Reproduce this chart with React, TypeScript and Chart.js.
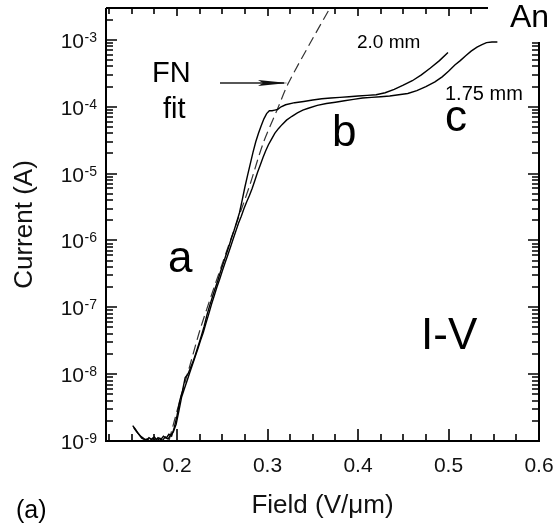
import React, { useEffect, useRef } from 'react';
import { Chart, registerables } from 'chart.js';

Chart.register(...registerables);

// ---------- data ----------
const field20mm = [
  0.152, 0.155, 0.158, 0.161, 0.164, 0.167, 0.170, 0.173, 0.176, 0.179, 0.182, 0.185, 0.188, 0.191, 0.194,
  0.197, 0.200, 0.203, 0.206, 0.209, 0.212, 0.215, 0.218, 0.221, 0.224, 0.227, 0.230, 0.233, 0.236, 0.239,
  0.242, 0.245, 0.248, 0.251, 0.254, 0.257, 0.260, 0.263, 0.266, 0.269, 0.272, 0.275, 0.278, 0.281, 0.284,
  0.287, 0.290, 0.293, 0.296, 0.299, 0.302, 0.305, 0.308, 0.311, 0.315, 0.320, 0.330, 0.340, 0.350, 0.360,
  0.370, 0.380, 0.390, 0.400, 0.410, 0.420, 0.430, 0.440, 0.450, 0.460, 0.470, 0.480, 0.490, 0.4994,
];
const current20mm = [
  1.6e-9, 1.4e-9, 1.25e-9, 1.1e-9, 1.05e-9, 1.07e-9, 1.0e-9, 1.1e-9, 1.02e-9, 1.12e-9, 1.05e-9, 1.18e-9, 1.1e-9, 1.26e-9, 1.18e-9,
  1.6e-9, 2.4e-9, 4.0e-9, 5.6e-9, 8.9e-9, 1.0e-8, 1.26e-8, 1.58e-8, 2.1e-8, 2.8e-8, 3.8e-8, 5.2e-8, 7.6e-8, 1.05e-7, 1.41e-7,
  1.9e-7, 2.5e-7, 3.4e-7, 4.5e-7, 6.0e-7, 7.9e-7, 1.07e-6, 1.41e-6, 1.9e-6, 2.6e-6, 4.0e-6, 6.3e-6, 9.5e-6, 1.41e-5, 2.1e-5,
  3.0e-5, 4.0e-5, 5.2e-5, 6.6e-5, 7.9e-5, 8.7e-5, 8.7e-5, 8.9e-5, 9.1e-5, 1.0e-4, 1.07e-4, 1.15e-4, 1.2e-4, 1.26e-4, 1.32e-4,
  1.35e-4, 1.38e-4, 1.41e-4, 1.45e-4, 1.48e-4, 1.51e-4, 1.62e-4, 1.82e-4, 2.1e-4, 2.45e-4, 3.0e-4, 3.8e-4, 4.9e-4, 6.5e-4,
];

const field175mm = [
  0.151, 0.154, 0.157, 0.160, 0.163, 0.166, 0.169, 0.172, 0.175, 0.178, 0.181, 0.184, 0.187, 0.190, 0.193,
  0.196, 0.199, 0.202, 0.205, 0.208, 0.211, 0.214, 0.217, 0.220, 0.223, 0.226, 0.229, 0.232, 0.235, 0.238,
  0.241, 0.244, 0.247, 0.250, 0.253, 0.256, 0.259, 0.262, 0.265, 0.268, 0.271, 0.274, 0.277, 0.280, 0.283,
  0.286, 0.289, 0.292, 0.295, 0.298, 0.301, 0.304, 0.308, 0.312, 0.316, 0.321, 0.327, 0.333, 0.339, 0.345,
  0.355, 0.365, 0.375, 0.385, 0.395, 0.405, 0.415, 0.425, 0.435, 0.445, 0.455, 0.465, 0.475, 0.485, 0.493,
  0.500, 0.507, 0.513, 0.519, 0.525, 0.5315, 0.537, 0.542, 0.548, 0.554,
];
const current175mm = [
  1.7e-9, 1.5e-9, 1.3e-9, 1.17e-9, 1.1e-9, 1.02e-9, 1.12e-9, 1.05e-9, 1.15e-9, 1.02e-9, 1.1e-9, 1.02e-9, 1.15e-9, 1.07e-9, 1.23e-9,
  1.38e-9, 1.78e-9, 2.8e-9, 4.5e-9, 6.0e-9, 7.9e-9, 1.05e-8, 1.38e-8, 1.82e-8, 2.4e-8, 3.2e-8, 4.2e-8, 5.8e-8, 7.9e-8, 1.1e-7,
  1.48e-7, 2.0e-7, 2.6e-7, 3.5e-7, 4.6e-7, 6.0e-7, 7.9e-7, 1.05e-6, 1.38e-6, 1.82e-6, 2.3e-6, 3.0e-6, 3.8e-6, 4.7e-6, 6.0e-6,
  7.9e-6, 1.05e-5, 1.35e-5, 1.74e-5, 2.2e-5, 2.7e-5, 3.2e-5, 4.0e-5, 4.7e-5, 5.4e-5, 6.3e-5, 7.2e-5, 8.1e-5, 8.9e-5, 9.5e-5,
  1.05e-4, 1.12e-4, 1.17e-4, 1.23e-4, 1.29e-4, 1.35e-4, 1.38e-4, 1.41e-4, 1.45e-4, 1.51e-4, 1.58e-4, 1.74e-4, 2.0e-4, 2.35e-4, 2.8e-4,
  3.4e-4, 4.2e-4, 4.9e-4, 5.8e-4, 6.8e-4, 7.8e-4, 8.5e-4, 9.1e-4, 9.3e-4, 9.3e-4,
];

const fieldFnFit = [0.191, 0.2033, 0.2144, 0.2254, 0.240, 0.2541, 0.2674, 0.2807, 0.295, 0.3105, 0.3227, 0.347, 0.369];
const currentFnFit = [1.0e-9, 4.1e-9, 1.38e-8, 4.6e-8, 1.82e-7, 6.5e-7, 2.1e-6, 6.9e-6, 2.8e-5, 8.9e-5, 2.2e-4, 8.9e-4, 3.0e-3];

const xTickValues = [0.2, 0.3, 0.4, 0.5, 0.6];
const xTickLabels = ['0.2', '0.3', '0.4', '0.5', '0.6'];
const xMinorTickValues = [
  0.125, 0.15, 0.175, 0.2, 0.225, 0.25, 0.275, 0.3, 0.325, 0.35, 0.375, 0.4, 0.425, 0.45, 0.475, 0.5, 0.525, 0.55, 0.575,
];
const yTickExponents = [-9, -8, -7, -6, -5, -4, -3];
const yMantissas = [1, 2, 3, 4, 5, 6, 7, 8, 9];

const X_MIN = 0.1215;
const X_MAX = 0.6;
const Y_MIN = 1e-9;
const Y_MAX = 3e-3;

const FONT = '"Liberation Sans", Arial, Helvetica, sans-serif';

const toPoints = (xs: number[], ys: number[]) => xs.map((x, i) => ({ x, y: ys[i] }));

// Frame and inward tick marks, drawn right after the datasets
const ticksPlugin = {
  id: 'inwardTicks',
  afterDatasetsDraw(chart: any) {
    const ctx: CanvasRenderingContext2D = chart.ctx;
    const a = chart.chartArea;
    const xs = chart.scales.x;
    const ys = chart.scales.y;
    const L = Math.round(a.left);
    const R = Math.round(a.right);
    const T = Math.round(a.top);
    const B = Math.round(a.bottom);
    const topEnd = R - 51;
    const rightTop = T + 34;
    ctx.save();
    ctx.setLineDash([]);
    ctx.globalAlpha = 1;
    ctx.globalCompositeOperation = 'source-over';
    ctx.strokeStyle = '#000000';
    ctx.lineCap = 'butt';

    ctx.lineWidth = 2;
    ctx.beginPath();
    ctx.moveTo(L, T);
    ctx.lineTo(L, B);
    ctx.lineTo(R, B);
    ctx.lineTo(R, rightTop);
    ctx.moveTo(L, T);
    ctx.lineTo(topEnd, T);
    ctx.stroke();

    ctx.lineWidth = 1.6;
    ctx.beginPath();
    for (const v of xMinorTickValues) {
      const px = Math.round(xs.getPixelForValue(v));
      const major = xTickValues.indexOf(v) >= 0;
      ctx.moveTo(px, B);
      ctx.lineTo(px, B - (major ? 12 : 7));
      if (px <= topEnd) {
        ctx.moveTo(px, T);
        ctx.lineTo(px, T + (major ? 8 : 6));
      }
    }
    for (const e of yTickExponents) {
      for (const m of yMantissas) {
        const v = m * Math.pow(10, e);
        if (v > Y_MAX * 1.0001) continue;
        if (m === 1 && e === -9) continue;
        const py = Math.round(ys.getPixelForValue(v));
        const len = m === 1 ? 11 : 7;
        ctx.moveTo(L, py);
        ctx.lineTo(L + len, py);
        if (py >= rightTop) {
          ctx.moveTo(R, py);
          ctx.lineTo(R - len, py);
        }
      }
    }
    ctx.stroke();
    ctx.restore();
  },
};

// Tick labels, axis titles and annotations
const textPlugin = {
  id: 'texts',
  afterDraw(chart: any) {
    const ctx: CanvasRenderingContext2D = chart.ctx;
    const a = chart.chartArea;
    const xs = chart.scales.x;
    const ys = chart.scales.y;
    ctx.save();
    ctx.fillStyle = '#111';
    ctx.textBaseline = 'alphabetic';
    ctx.textAlign = 'right';
    for (const e of yTickExponents) {
      const py = ys.getPixelForValue(Math.pow(10, e));
      const expText = String(e);
      ctx.font = `14px ${FONT}`;
      const expW = ctx.measureText(expText).width;
      ctx.fillText(expText, a.left - 9, py + 2);
      ctx.font = `21px ${FONT}`;
      ctx.fillText('10', a.left - 9 - expW - 0.5, py + 8);
    }
    ctx.font = `21px ${FONT}`;
    ctx.textAlign = 'center';
    xTickValues.forEach((v, i) => {
      ctx.fillText(xTickLabels[i], xs.getPixelForValue(v), a.bottom + 31);
    });

    ctx.font = `26px ${FONT}`;
    ctx.textAlign = 'center';
    ctx.fillText('Field (V/\u03bcm)', (a.left + a.right) / 2, 513);
    ctx.save();
    ctx.translate(32, (a.top + a.bottom) / 2);
    ctx.rotate(-Math.PI / 2);
    ctx.fillText('Current (A)', 0, 0);
    ctx.restore();

    ctx.textAlign = 'left';
    ctx.fillStyle = '#000';
    ctx.font = `29px ${FONT}`;
    ctx.fillText('FN', 152, 82);
    ctx.fillText('fit', 163, 118);
    ctx.font = `44px ${FONT}`;
    ctx.fillText('a', 168, 272);
    ctx.fillText('b', 332, 146);
    ctx.fillText('c', 445, 131);
    ctx.fillText('I-V', 421, 349);
    ctx.font = `19px ${FONT}`;
    ctx.fillText('2.0 mm', 357, 48);
    ctx.font = `20px ${FONT}`;
    ctx.fillText('1.75 mm', 445, 100);
    ctx.font = `32px ${FONT}`;
    ctx.fillText('An', 510, 27);
    ctx.font = `25px ${FONT}`;
    ctx.fillText('(a)', 16, 518);

    ctx.fillStyle = '#111';
    ctx.fillRect(220, 82.3, 64, 1.4);
    ctx.beginPath();
    ctx.moveTo(288, 83);
    ctx.lineTo(258, 80);
    ctx.lineTo(263, 83);
    ctx.lineTo(258, 86);
    ctx.closePath();
    ctx.fill();
    ctx.restore();
  },
};

export default function App() {
  const ref = useRef<HTMLCanvasElement | null>(null);
  useEffect(() => {
    if (!ref.current) return;
    const chart = new Chart(ref.current, {
      type: 'line',
      data: {
        datasets: [
          {
            label: '2.0 mm',
            data: toPoints(field20mm, current20mm),
            borderColor: '#000',
            borderWidth: 1.4,
            pointRadius: 0,
            tension: 0,
            fill: false,
          },
          {
            label: '1.75 mm',
            data: toPoints(field175mm, current175mm),
            borderColor: '#000',
            borderWidth: 1.4,
            pointRadius: 0,
            tension: 0,
            fill: false,
          },
          {
            label: 'FN fit',
            data: toPoints(fieldFnFit, currentFnFit),
            borderColor: '#333',
            borderWidth: 1.2,
            borderDash: [10, 5],
            pointRadius: 0,
            tension: 0.3,
            fill: false,
          },
        ],
      },
      options: {
        responsive: false,
        animation: false,
        events: [],
        layout: { padding: { top: 8, right: 15, left: 0, bottom: 0 } },
        plugins: { legend: { display: false }, tooltip: { enabled: false }, title: { display: false } },
        scales: {
          x: {
            type: 'linear',
            min: X_MIN,
            max: X_MAX,
            grid: { display: false },
            border: { display: false },
            ticks: { display: false },
            afterFit: (s: any) => { s.height = 82; },
          },
          y: {
            type: 'logarithmic',
            min: Y_MIN,
            max: Y_MAX,
            grid: { display: false },
            border: { display: false },
            ticks: { display: false },
            afterFit: (s: any) => { s.width = 106; },
          },
        },
      },
      plugins: [ticksPlugin, textPlugin],
    });
    return () => chart.destroy();
  }, []);
  return (
    <div style={{ position: 'absolute', left: 0, top: 0, width: 554, height: 523, background: '#fff' }}>
      <canvas ref={ref} width={554} height={523} style={{ display: 'block' }} />
    </div>
  );
}
